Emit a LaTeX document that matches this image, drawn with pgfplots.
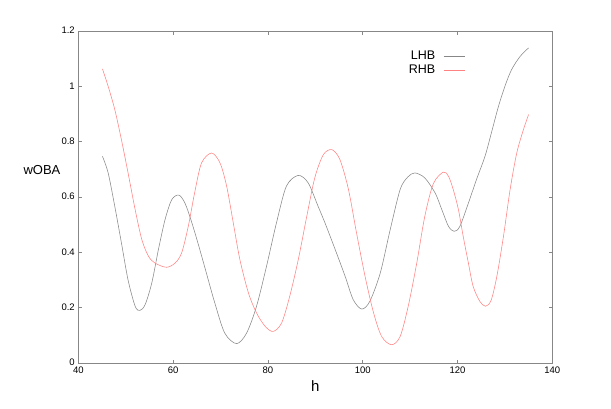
\documentclass[border=0pt]{standalone}
\usepackage{fontspec}
\setmainfont{Liberation Sans}
\usepackage{pgfplots}
\pgfplotsset{compat=1.18}
\definecolor{lhbcol}{RGB}{135,135,135}
\definecolor{rhbcol}{RGB}{255,130,130}
\definecolor{axcol}{RGB}{135,135,135}
\begin{document}
\begin{tikzpicture}
\begin{axis}[
  name=ax,
  scale only axis,
  width=474pt, height=332pt,
  xmin=40, xmax=140, ymin=0, ymax=1.2,
  xtick={40,60,80,100,120,140},
  ytick={0,0.2,0.4,0.6,0.8,1,1.2},
  tick align=inside,
  major tick length=3.5pt,
  every tick/.style={axcol, line width=0.6pt},
  axis line style={axcol, line width=0.8pt},
  /pgf/number format/assume math mode=true,
  tick label style={font=\fontsize{9.5}{10}\selectfont},
  xticklabel style={yshift=-0.5pt},
  yticklabel style={yshift=0.5pt},
  xlabel={h},
  ylabel={wOBA},
  xlabel style={font=\fontsize{15}{16}\selectfont, at={(axis description cs:0.5,-0.069)}, anchor=center},
  ylabel style={font=\fontsize{13}{14}\selectfont, rotate=-90, at={(axis description cs:-0.0766,0.581)}, anchor=center},
  legend plot pos=right,
  legend cell align=right,
  legend image code/.code={\path (0pt,0pt); \draw[#1] (6pt,0pt) -- (27pt,0pt);},
  legend style={at={(axis description cs:0.818,0.950)}, anchor=north east, draw=none, fill=none,
    font=\fontsize{12.5}{13}\selectfont, row sep=0pt, inner sep=1pt},
]
\addplot[lhbcol, line width=0.55pt, smooth, tension=0.5] coordinates {
(45.1,0.747) (46.3,0.687) (47.7,0.566) (49.1,0.434) (50.5,0.30) (52.0,0.205)
(53.0,0.19) (54.1,0.211) (55.5,0.289) (56.9,0.41) (58.3,0.518) (59.7,0.59)
(61.2,0.607) (62.5,0.578) (63.9,0.51) (65.3,0.43) (66.7,0.345) (68.8,0.217)
(70.9,0.108) (73.4,0.07) (75.5,0.108) (77.6,0.205) (79.7,0.349) (81.8,0.506)
(83.9,0.639) (86.4,0.678) (88.5,0.651) (90.6,0.566) (92.05,0.506) (94.2,0.41)
(96.3,0.313) (98.0,0.229) (99.8,0.195) (101.5,0.223) (103.7,0.325) (105.8,0.482)
(107.9,0.627) (109.5,0.672) (111.0,0.687) (113.1,0.669) (115.3,0.614) (116.7,0.554)
(118.1,0.494) (119.3,0.476) (120.5,0.494) (122.3,0.578) (124.0,0.663) (125.8,0.747)
(127.2,0.835) (128.6,0.925) (130.0,1.0) (131.4,1.06) (133.2,1.108) (135.0,1.139)
};
\addlegendentry{LHB}
\addplot[rhbcol, line width=0.55pt, smooth, tension=0.5] coordinates {
(45.1,1.063) (46.3,1.0) (47.7,0.916) (49.1,0.807) (50.5,0.687) (52.0,0.554)
(53.4,0.446) (54.8,0.386) (56.2,0.361) (58.6,0.346) (60.4,0.361) (61.8,0.398)
(63.2,0.494) (64.6,0.62) (66.0,0.723) (68.1,0.759) (69.9,0.723) (71.3,0.639)
(72.7,0.506) (74.1,0.373) (75.9,0.253) (77.6,0.181) (79.4,0.133) (81.1,0.114)
(82.9,0.145) (84.6,0.241) (86.4,0.373) (88.2,0.53) (89.9,0.67) (91.7,0.753)
(93.5,0.771) (95.2,0.735) (97.0,0.627) (98.7,0.47) (100.5,0.313) (102.3,0.181)
(104.0,0.096) (106.1,0.066) (107.9,0.096) (109.6,0.205) (111.4,0.361) (113.1,0.53)
(114.9,0.648) (117.0,0.69) (118.1,0.675) (119.1,0.627) (120.2,0.554) (121.2,0.458)
(122.3,0.361) (123.3,0.277) (124.7,0.223) (125.9,0.205) (127.1,0.227) (128.3,0.313)
(129.7,0.458) (131.1,0.627) (132.5,0.759) (133.9,0.843) (135.0,0.898)
};
\addlegendentry{RHB}
\end{axis}
\pgfresetboundingbox
\path[use as bounding box] ([xshift=-78.3pt,yshift=-45pt]ax.south west) rectangle ([xshift=58.7pt,yshift=31pt]ax.north east);
\end{tikzpicture}
\end{document}
